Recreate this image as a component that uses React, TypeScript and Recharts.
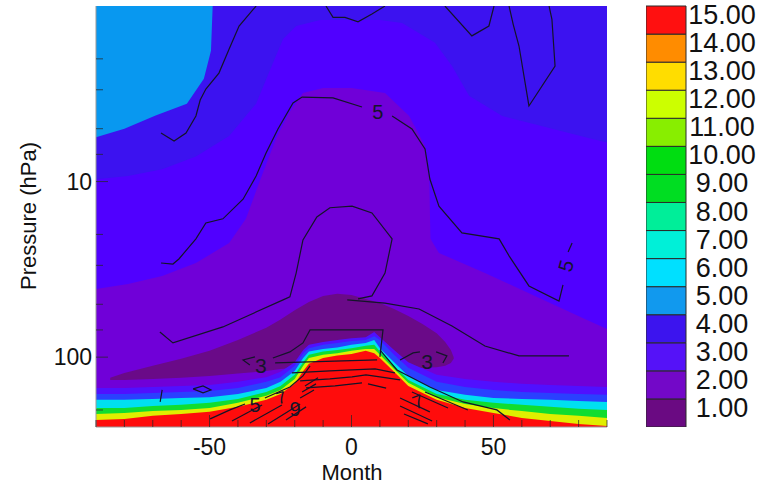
import React from "react";
import { ComposedChart, Area, Line, Scatter, XAxis, YAxis, BarChart, Bar } from "recharts";

const FONT = '"Liberation Sans", Arial, Helvetica, sans-serif';
const P_TOP = 1;
const P_BOT = 250;

// colour bar levels
const levels = [1, 2, 3, 4, 5, 6, 7, 8, 9, 10, 11, 12, 13, 14, 15];
const levelColors = [
  "#6a0a82", "#7308c8", "#5512f8", "#3c14ee", "#1199ee", "#00e0ff", "#00f0d8", "#00ee99",
  "#00dd22", "#00dd11", "#88ee00", "#ccff00", "#ffdd00", "#ff8c00", "#ff1010",
];

// axes
const xTicks = [-90, -80, -70, -60, -50, -40, -30, -20, -10, 0, 10, 20, 30, 40, 50, 60, 70, 80, 90];
const xLabels = [-50, 0, 50];
const pTicks = [2, 3, 4, 5, 6, 7, 8, 9, 10, 20, 30, 40, 50, 60, 70, 80, 90, 100, 200];
const pLabels = [10, 100];

// upper field regions (month, pressure hPa)
const fullX = [-90, 90];
const lightBlueX = [-90, -80, -69, -58, -52, -49.5, -48.9];
const lightBlueBottom = [5.6, 5.0, 4.2, 3.6, 2.6, 1.8, 1.0];

const c3X = [-90, -78.7, -66.7, -54.8, -43.1, -33.6, -27.6, -24.1, -19.5, -11, 0, 10, 17.8, 29.4, 35.4, 41.4, 53.1, 70.7, 82.4, 90];
const c3Top = [9.7, 9.3, 8.5, 7.2, 5.5, 3.6, 2.1, 1.54, 1.3, 1.2, 1.2, 1.2, 1.25, 1.62, 2.2, 3.25, 4.23, 5.0, 5.6, 6.0];

const c2X = [-90, -78.7, -66.7, -54.8, -43.1, -37.2, -31.2, -26.6, -22, -17.1, -10, 0, 11.8, 20.3, 25.9, 27.4, 27.8, 30.8, 47, 64.6, 82.2, 90];
const c2Top = [40.9, 38.3, 34.5, 29.1, 22.4, 16.3, 8.9, 5.7, 4.07, 3.13, 2.93, 2.93, 3.13, 4.23, 6.27, 9.67, 21.2, 25.5, 33.2, 44.8, 60.6, 69.1];

const c1X = [-85, -80, -70, -60, -50, -40, -30, -25, -20, -15, -10, -5, 0, 5, 10, 15, 20, 25, 30, 33, 35, 36];
const c1Top = [131, 123, 112, 102, 92, 80, 68, 61, 54, 48.5, 44.8, 43.6, 44.2, 46.6, 49.2, 53.2, 58.3, 64.7, 73, 82, 91, 100];
const c1Bottom = [135, 135, 133, 131, 128, 124, 120, 117, 115, 126, 135, 135, 135, 135, 135, 131, 121, 115, 114, 112, 108, 102];

// low-level bands, tops in hPa
const bandX = [-90, -80, -70, -60, -50, -40, -30, -25, -20, -17, -15, -10, -5, 0, 5, 8, 10, 15, 20, 30, 40, 50, 60, 70, 80, 90];
const violetTop = [150, 150, 148, 146, 144, 138, 130, 121, 107, 91, 85, 82, 80, 78, 77, 72, 77, 91, 107, 126, 133, 138, 142, 144, 146, 148];
const blueTop = [162, 162, 160, 158, 156, 150, 138, 130, 112, 95, 89, 85, 83, 81, 80, 76, 80, 97, 115, 138, 148, 154, 158, 160, 162, 164];
const cyanTop = [175, 175, 173, 171, 169, 162, 150, 138, 120, 101, 93, 90, 88, 85, 83, 80, 89, 107, 128, 154, 164, 171, 173, 175, 178, 180];
const greenTop = [195, 195, 190, 187, 182, 173, 158, 146, 126, 107, 97, 93, 91, 89, 86, 85, 93, 112, 135, 162, 175, 182, 187, 192, 197, 200];
const yellowTop = [211, 208, 203, 200, 195, 182, 166, 154, 133, 112, 101, 97, 95, 92, 90, 90, 97, 117, 140, 169, 185, 195, 203, 211, 216, 222];
const redTop = [228, 225, 216, 211, 205, 192, 175, 162, 142, 120, 109, 101, 98, 96, 92, 95, 101, 121, 146, 175, 195, 208, 222, 231, 240, 247];

// contour lines [month, hPa]
type Pt = [number, number];
const contourA: Pt[] = [[-33.6, 1], [-39.6, 1.3], [-43.1, 1.76], [-46.7, 2.41], [-51.3, 2.97], [-53.3, 3.43], [-54.8, 4.23], [-58.3, 5.29], [-62.5, 5.87], [-67.1, 5.29]];
const contour5Left: Pt[] = [[-67.1, 29.1], [-62.9, 29.5], [-60.8, 27.6], [-54.8, 21.2], [-51.3, 17.2], [-45.3, 16.3], [-38.2, 12.6], [-33.6, 9.29], [-30.1, 6.87], [-25.9, 5.02], [-20.6, 3.57], [-17.4, 3.3], [-6.5, 3.34], [3.7, 3.76]];
const contour5Right: Pt[] = [[14.3, 4.23], [21.3, 5.02], [25.9, 6.52], [27.6, 9.67], [30.8, 13.8], [38.9, 19.6], [52, 21.2], [55.5, 26.5], [62.5, 39.3], [73.1, 47.9], [74.5, 38.8]];
const contour5Tail: Pt[] = [[76.3, 25.2], [77.7, 22.4]];
const contourInner: Pt[] = [[-67.5, 71.9], [-62.9, 83], [-45.3, 67.3], [-24.1, 47.2], [-21.7, 45.4], [-19.5, 33.2], [-17.1, 21.5], [-12.2, 15.9], [-7.6, 14.1], [0.2, 13.8], [7.2, 15.1], [14.3, 21.2], [11.8, 33.2], [7.2, 44.8], [2.3, 46.6]];
const contourMid: Pt[] = [[-1.5, 47.2], [11.8, 49.2], [23.8, 53.2], [35.4, 66.4], [47, 86.4], [59, 98.4], [76.6, 98.4]];
const contourTopA: Pt[] = [[-9, 1], [-6.5, 1.16], [-2.3, 1.16], [2.3, 1.23], [7.2, 1.11], [11.8, 1]];
const contourTopB: Pt[] = [[32.9, 1], [42.4, 1.48], [48.4, 1.3], [50.2, 1]];
const contourTopC: Pt[] = [[55.5, 1], [57, 1.28], [59, 1.69], [62.5, 3.71], [71.7, 2.2], [70.6, 1.19], [69.6, 1]];
const contour3Hook: Pt[] = [[-34, 99.7], [-38.2, 103.7], [-35.8, 110.8]];
const contourBox: Pt[] = [[-27.7, 101.1], [-21.7, 93.4], [-17.1, 83], [-14.6, 70], [11.1, 70], [10, 99.7]];
const contourFlat: Pt[] = [[-26.9, 107.9], [9, 103.7]];
const contour3RightA: Pt[] = [[17.1, 103.7], [21.7, 94.6], [24.1, 93.4]];
const contour3RightB: Pt[] = [[29.8, 93.4], [33.6, 98.4], [32.2, 107.9]];
const diamond: Pt[] = [[-55.8, 151.7], [-52.3, 145.9], [-49.5, 153.8], [-52.3, 159.9], [-55.8, 151.7]];
const tick1: Pt[] = [[-66.7, 153.8], [-67.4, 180]];
const domeRight: Pt[] = [[10, 91], [16, 118.3], [27.6, 147.8], [39.3, 180], [51.2, 199.8], [55.8, 227.8]];
const dome5A: Pt[] = [[-49.8, 224.8], [-42.8, 199.8], [-37.5, 184.8]];
const dome5B: Pt[] = [[-30.5, 170.8], [-21.7, 147.8], [-17.1, 128], [-14.6, 112.2]];
const redLines: Pt[][] = [
  [[-42.1, 230.8], [-31.5, 187.2]],
  [[-35.8, 237], [-24.5, 187.2]],
  [[-29.4, 240], [-18.1, 184.8]],
  [[-23.1, 228], [-16, 192]],
  [[-18.1, 170.8], [-13.2, 153.8]],
  [[-17.4, 158], [-12.5, 142]],
  [[-16.4, 146], [-11.8, 131]],
  [[17.1, 171], [27.6, 205]],
  [[17.1, 190], [28.4, 231]],
  [[18.5, 211], [26.9, 240]],
  [[21.3, 158], [34, 195]],
  [[25.9, 158], [41, 200]],
  [[-21, 123], [-7.6, 119.8], [0.2, 118.3], [8.3, 116.8], [15.3, 123]],
  [[-18.1, 136.6], [-7.6, 133.1], [0.2, 129.7], [5.1, 126.3], [10, 129.7], [17.1, 134.9]],
  [[-16, 149.8], [-5.8, 145.9], [3.7, 140.3]],
  [[5.8, 142], [12.2, 150]],
];

const contourLines: Pt[][] = [
  contourA, contour5Left, contour5Right, contour5Tail, contourInner, contourMid, contourTopA, contourTopB,
  contourTopC, contour3Hook, contourBox, contourFlat, contour3RightA, contour3RightB, diamond, tick1,
  domeRight, dome5A, dome5B, ...redLines,
];

const contourLabels = [
  { x: 9.3, p: 4.0, t: "5", rot: 0, size: 20 },
  { x: 75.5, p: 30.2, t: "5", rot: -75, size: 20 },
  { x: -31.9, p: 112, t: "3", rot: 0, size: 21 },
  { x: 26.6, p: 106.5, t: "3", rot: 0, size: 21 },
  { x: -34, p: 187, t: "5", rot: 0, size: 20 },
  { x: -24.8, p: 171, t: "7", rot: -15, size: 17 },
  { x: -19.9, p: 197, t: "9", rot: 0, size: 20 },
  { x: 23.4, p: 180, t: "7", rot: -20, size: 19 },
];

const toRange = (xs: number[], lo: number[] | number, hi: number[] | number) =>
  xs.map((x, i) => ({
    x,
    r: [Array.isArray(lo) ? lo[i] : lo, Array.isArray(hi) ? hi[i] : hi],
  }));
const toLine = (pts: Pt[]) => pts.map(([x, p]) => ({ x, p }));

const fills = [
  { data: toRange(fullX, P_TOP, P_BOT), color: "#3c12f0" },
  { data: toRange(lightBlueX, P_TOP, lightBlueBottom), color: "#0898f0" },
  { data: toRange(c3X, c3Top, P_BOT), color: "#5000ff" },
  { data: toRange(c2X, c2Top, P_BOT), color: "#7000d8" },
  { data: toRange(c1X, c1Top, c1Bottom), color: "#6a0a88" },
  { data: toRange(bandX, violetTop, P_BOT), color: "#5010ff" },
  { data: toRange(bandX, blueTop, P_BOT), color: "#2a40ff" },
  { data: toRange(bandX, cyanTop, P_BOT), color: "#00e0f0" },
  { data: toRange(bandX, greenTop, P_BOT), color: "#10dd30" },
  { data: toRange(bandX, yellowTop, P_BOT), color: "#e0ee00" },
  { data: toRange(bandX, redTop, P_BOT), color: "#ff0c0c" },
];

const TICK = "rgba(40,40,40,0.75)";

const BottomTick = (props: any) => {
  const { x, y, payload } = props;
  const major = xLabels.includes(payload.value);
  return (
    <g>
      <line x1={x} x2={x} y1={y} y2={y - (major ? 12 : 7)} stroke={TICK} />
      {major && (
        <text x={x} y={y + 28} textAnchor="middle" fontSize={23} fontFamily={FONT} fill="#111">
          {payload.value}
        </text>
      )}
    </g>
  );
};

const TopTick = (props: any) => {
  const { x, y, payload } = props;
  const major = xLabels.includes(payload.value);
  return <line x1={x} x2={x} y1={y} y2={y + (major ? 12 : 7)} stroke={TICK} />;
};

const LeftTick = (props: any) => {
  const { x, y, payload } = props;
  const major = pLabels.includes(payload.value);
  return (
    <g>
      <line x1={x} x2={x + (major ? 12 : 7)} y1={y} y2={y} stroke={TICK} />
      {major && (
        <text x={x - 4} y={y + 8} textAnchor="end" fontSize={23} fontFamily={FONT} fill="#111">
          {payload.value}
        </text>
      )}
    </g>
  );
};

const RightTick = (props: any) => {
  const { x, y, payload } = props;
  const major = pLabels.includes(payload.value);
  return <line x1={x} x2={x - (major ? 12 : 7)} y1={y} y2={y} stroke={TICK} />;
};

const LabelShape = (props: any) => {
  const { cx, cy, payload } = props;
  return (
    <text
      x={cx}
      y={cy}
      textAnchor="middle"
      dominantBaseline="central"
      fontSize={payload.size}
      fontFamily={FONT}
      fill="#15152a"
      transform={`rotate(${payload.rot} ${cx} ${cy})`}
    >
      {payload.t}
    </text>
  );
};

const barRow = [{ name: "bar", ...Object.fromEntries(levels.map((l) => [`b${l}`, 1])) }];

const BarLabel = (props: any) => {
  const { x, y, payload } = props;
  const level = payload.value + 0.5;
  return (
    <text x={x + 36} y={y - 5} textAnchor="middle" dominantBaseline="central" fontSize={27} fontFamily={FONT} fill="#111">
      {level.toFixed(2)}
    </text>
  );
};

export default function App() {
  return (
    <div style={{ position: "absolute", left: 0, top: 0, width: 766, height: 485, background: "#fff", fontFamily: FONT }}>
      <ComposedChart width={607 + 159} height={485} margin={{ top: 6, right: 159, bottom: 28, left: 36 }}>
        {fills.map((f, i) => (
          <Area
            key={`fill-${i}`}
            data={f.data}
            dataKey="r"
            type="linear"
            stroke="none"
            fill={f.color}
            fillOpacity={1}
            dot={false}
            activeDot={false}
            isAnimationActive={false}
          />
        ))}
        {contourLines.map((pts, i) => (
          <Line
            key={`c-${i}`}
            data={toLine(pts)}
            dataKey="p"
            type="linear"
            stroke="#141428"
            strokeWidth={1.2}
            dot={false}
            activeDot={false}
            isAnimationActive={false}
          />
        ))}
        <Scatter data={contourLabels} shape={(p: any) => <LabelShape {...p} />} isAnimationActive={false} />
        <XAxis
          dataKey="x"
          type="number"
          domain={[-90, 90]}
          ticks={xTicks}
          allowDataOverflow
          height={30}
          tickSize={0}
          tickMargin={0}
          tick={<BottomTick />}
          axisLine={{ stroke: "#999" }}
          tickLine={false}
        />
        <XAxis
          xAxisId="top"
          orientation="top"
          type="number"
          domain={[-90, 90]}
          ticks={xTicks}
          allowDataOverflow
          height={0}
          tickSize={0}
          tickMargin={0}
          tick={<TopTick />}
          axisLine={{ stroke: "#999" }}
          tickLine={false}
        />
        <YAxis
          dataKey="p"
          type="number"
          scale="log"
          domain={[P_TOP, P_BOT]}
          reversed
          allowDataOverflow
          ticks={pTicks}
          width={60}
          tickSize={0}
          tickMargin={0}
          tick={<LeftTick />}
          axisLine={{ stroke: "#999" }}
          tickLine={false}
        />
        <YAxis
          yAxisId="right"
          orientation="right"
          type="number"
          scale="log"
          domain={[P_TOP, P_BOT]}
          reversed
          allowDataOverflow
          ticks={pTicks}
          width={0}
          tickSize={0}
          tickMargin={0}
          tick={<RightTick />}
          axisLine={{ stroke: "#999" }}
          tickLine={false}
        />
      </ComposedChart>

      <div style={{ position: "absolute", left: 646, top: 0 }}>
        <BarChart width={120} height={427} data={barRow} margin={{ top: 6, right: 0, bottom: 0, left: 0 }} barCategoryGap={0} barGap={0}>
          <XAxis dataKey="name" type="category" hide />
          <YAxis
            orientation="right"
            type="number"
            domain={[0, 15]}
            ticks={levels.map((l) => l - 0.5)}
            width={80}
            tickSize={0}
            tickMargin={0}
            axisLine={false}
            tickLine={false}
            tick={<BarLabel />}
          />
          {levels.map((l, i) => (
            <Bar key={l} dataKey={`b${l}`} stackId="cb" fill={levelColors[i]} stroke="#2a2a2a" strokeWidth={1} isAnimationActive={false} />
          ))}
        </BarChart>
      </div>

      <svg width={766} height={485} style={{ position: "absolute", left: 0, top: 0, pointerEvents: "none" }}>
        <text x={352} y={480} textAnchor="middle" fontSize={22} fontFamily={FONT} fill="#111">
          Month
        </text>
        <text
          x={36}
          y={216}
          textAnchor="middle"
          fontSize={22}
          fontFamily={FONT}
          fill="#111"
          transform="rotate(-90 36 216)"
        >
          Pressure (hPa)
        </text>
      </svg>
    </div>
  );
}
